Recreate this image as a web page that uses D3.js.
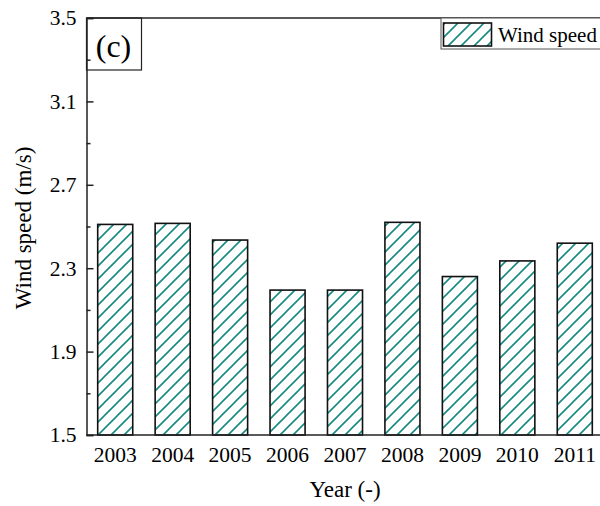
<!DOCTYPE html>
<html>
<head>
<meta charset="utf-8">
<script src="https://cdn.jsdelivr.net/npm/d3@7"></script>
<style>
  html, body { margin: 0; padding: 0; background: #fff; }
  svg { display: block; }
  text { font-family: "Liberation Serif", "Times New Roman", serif; fill: #000; }
</style>
</head>
<body>
<script>
// Annual mean wind speed, 2003–2011
const years = ["2003", "2004", "2005", "2006", "2007", "2008", "2009", "2010", "2011"];
const windSpeed = [2.51, 2.515, 2.435, 2.195, 2.195, 2.52, 2.26, 2.335, 2.42];
const majorTicks = [1.5, 1.9, 2.3, 2.7, 3.1, 3.5];
const minorTicks = [1.7, 2.1, 2.5, 2.9, 3.3];
const panelLabel = "(c)";
const seriesName = "Wind speed";
const xTitle = "Year (-)";
const yTitle = "Wind speed (m/s)";

const W = 600, H = 506;
const plotLeft = 86.5, plotTop = 18, plotBottom = 435, plotRight = 603.5;
const hatchColor = "#168a80";
const serif = "'Liberation Serif', 'Times New Roman', serif";

const svg = d3.select("body").append("svg").attr("width", W).attr("height", H);

// Diagonal hatch used to fill the bars and the legend swatch
const defs = svg.append("defs");
const pat = defs.append("pattern")
  .attr("id", "hatch").attr("patternUnits", "userSpaceOnUse")
  .attr("width", 13).attr("height", 13);
pat.append("path")
  .attr("d", "M-3,3 L3,-3 M0,13 L13,0 M10,16 L16,10")
  .attr("stroke", hatchColor).attr("stroke-width", 1.6).attr("fill", "none");

const x = d3.scaleBand().domain(years).range([plotLeft, plotRight]).paddingInner(0.39).paddingOuter(0.195);
const y = d3.scaleLinear().domain([1.5, 3.5]).range([plotBottom, plotTop]);

// Bars
svg.append("g").selectAll("rect").data(years).join("rect")
  .attr("x", d => x(d))
  .attr("width", x.bandwidth())
  .attr("y", (d, i) => y(windSpeed[i]))
  .attr("height", (d, i) => y(1.5) - y(windSpeed[i]))
  .attr("fill", "url(#hatch)")
  .attr("stroke", "#111").attr("stroke-width", 1.6);

// Frame: top edge and right edge
svg.append("line").attr("x1", plotLeft).attr("x2", plotRight).attr("y1", plotTop).attr("y2", plotTop)
  .attr("stroke", "#222").attr("stroke-width", 1.5);
svg.append("line").attr("x1", plotRight).attr("x2", plotRight).attr("y1", plotTop).attr("y2", plotBottom)
  .attr("stroke", "#222").attr("stroke-width", 1.5);

// Y axis with inward ticks
const yAxis = svg.append("g").attr("transform", `translate(${plotLeft},0)`)
  .call(d3.axisLeft(y).tickValues(majorTicks).tickSize(-7).tickPadding(10).tickFormat(d3.format(".1f")));
svg.append("g").attr("transform", `translate(${plotLeft},0)`)
  .call(d3.axisLeft(y).tickValues(minorTicks).tickSize(-4).tickFormat(""))
  .call(g => g.select(".domain").remove());

// X axis
const xAxis = svg.append("g").attr("transform", `translate(0,${plotBottom})`)
  .call(d3.axisBottom(x).tickSize(0).tickPadding(12));
xAxis.select(".domain").attr("d", `M${plotLeft},0H${plotRight}`);

svg.selectAll(".tick text").attr("font-family", serif).attr("font-size", 21.5).attr("fill", "#000");
svg.selectAll(".domain").attr("stroke", "#222").attr("stroke-width", 1.5);
svg.selectAll(".tick line").attr("stroke", "#222").attr("stroke-width", 1.5);

// Axis titles
svg.append("text").attr("x", 345).attr("y", 497).attr("text-anchor", "middle")
  .attr("font-family", serif).attr("font-size", 23).text(xTitle);
svg.append("text").attr("transform", "translate(31,228) rotate(-90)").attr("text-anchor", "middle")
  .attr("font-family", serif).attr("font-size", 23).text(yTitle);

// Panel label box
svg.append("rect").attr("x", plotLeft).attr("y", plotTop).attr("width", 55).attr("height", 52)
  .attr("fill", "none").attr("stroke", "#222").attr("stroke-width", 1.2);
svg.append("text").attr("x", plotLeft + 27).attr("y", 57).attr("text-anchor", "middle")
  .attr("font-family", serif).attr("font-size", 32).text(panelLabel);

// Legend
svg.append("rect").attr("x", 441).attr("y", plotTop).attr("width", 170).attr("height", 31)
  .attr("fill", "#fff").attr("stroke", "#555").attr("stroke-width", 1);
svg.append("rect").attr("x", 443.5).attr("y", 23).attr("width", 48).attr("height", 23)
  .attr("fill", "url(#hatch)").attr("stroke", "#111").attr("stroke-width", 1.6);
svg.append("text").attr("x", 498).attr("y", 42)
  .attr("font-family", serif).attr("font-size", 21).text(seriesName);
</script>
</body>
</html>
